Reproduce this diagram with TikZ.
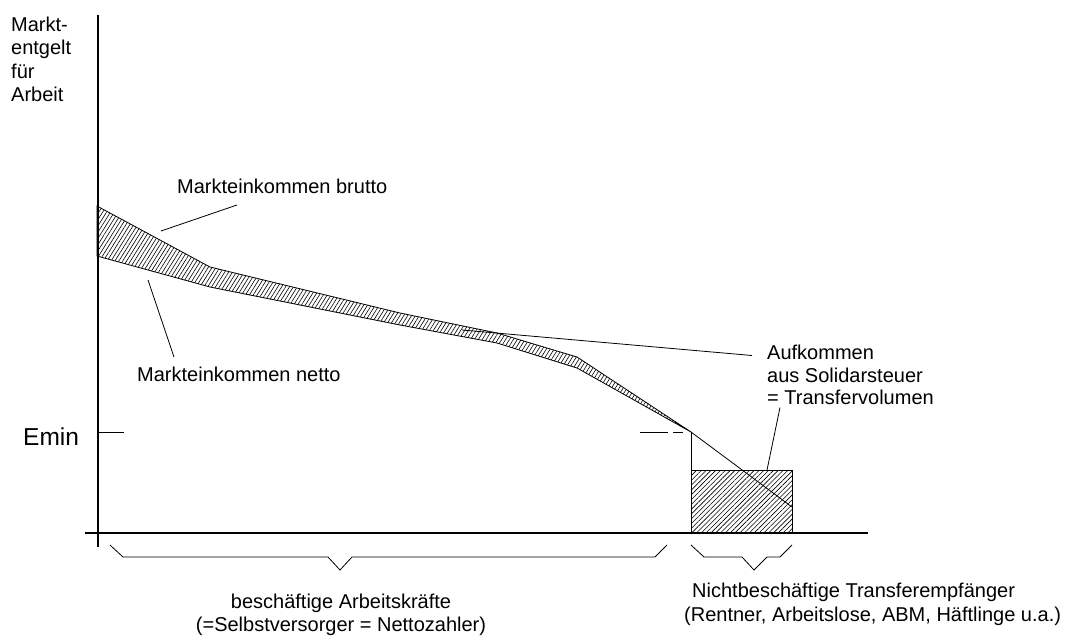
\documentclass[tikz,border=0pt]{standalone}
\usepackage{fontspec}
\setmainfont{Liberation Sans}
\usetikzlibrary{patterns.meta}

\begin{document}
\begin{tikzpicture}[
        x=1pt, y=-1pt,
        axis/.style={line width=1.8pt},
        thinline/.style={line width=0.8pt},
        lbl/.style={inner sep=0pt, anchor=base west, font=\fontsize{20}{23}\selectfont},
        mid/.style={inner sep=0pt, anchor=base, font=\fontsize{20}{23}\selectfont},
        bandhatch/.style={pattern={Lines[angle=58,distance=3.3pt,line width=0.6pt]}},
        boxhatch/.style={pattern={Lines[angle=45,distance=3.4pt,line width=0.6pt]}}
    ]

    \useasboundingbox (0,0) rectangle (1079,638);

    % Axes
    \draw[axis] (98,15) -- (98,547);
    \draw[axis] (85,533) -- (868,533);

    % Axis label
    \node[lbl] (yl1) at (11,31) {Markt-};
    \node[lbl] (yl2) at (11,54.5) {entgelt};
    \node[lbl] (yl3) at (11,78) {für};
    \node[lbl] (yl4) at (11,101.5) {Arbeit};

    % Emin
    \node[lbl, font=\fontsize{24.5}{28}\selectfont] (emin) at (23,445) {Emin};
    \coordinate (eminTick) at (124,432);
    \draw[thinline] (98,432) -- (eminTick);

    % Band between brutto and netto
    \draw[thinline, bandhatch] (97,206) -- (210,267) -- (400,313) -- (497,333)
        -- (577,357) -- (691,432) -- (577,368) -- (497,343) -- (400,325)
        -- (210,287) -- (97,256) -- cycle;

    % Transfer box
    \coordinate (emax) at (691,432);
    \draw[thinline, boxhatch] (691,470) rectangle (792,533);
    \draw[thinline] (emax) -- (691,470);
    \draw[thinline] (emax) -- (792,507);
    \draw[thinline, dash pattern=on 28pt off 5pt on 10pt off 20pt] (640,432) -- (emax);

    % Labels with leaders
    \node[lbl] (brutto) at (177,193) {Markteinkommen brutto};
    \node[lbl] (netto) at (137,381) {Markteinkommen netto};
    \coordinate (bruttoEnd) at (161,231);
    \coordinate (nettoEnd) at (148,280);
    \draw[thinline] ([shift={(60,12)}]brutto.base west) -- (bruttoEnd);
    \draw[thinline] ([shift={(37,-24)}]netto.base west) -- (nettoEnd);

    \node[lbl] (auf1) at (767,359.5) {Aufkommen};
    \node[lbl] (auf2) at (767,382) {aus Solidarsteuer};
    \node[lbl] (auf3) at (767,404.5) {= Transfervolumen};
    \coordinate (aufEnd) at (462,330);
    \coordinate (boxTop) at (767,470);
    \draw[thinline] ([shift={(-15,-4)}]auf1.base west) -- (aufEnd);
    \draw[thinline] ([shift={(13,3)}]auf3.base west) -- (boxTop);

    % Braces
    \draw[thinline] (110,545) -- (123,557) -- (328,557) -- (340,570)
        -- (352,557) -- (655,557) -- (667,545);
    \draw[thinline] (691,545) -- (704,557) -- (742,557) -- (754,570)
        -- (767,557) -- (780,557) -- (792,545);

    \node[mid] (besch1) at (341,608) {beschäftige Arbeitskräfte};
    \node[mid] (besch2) at (341,631) {(=Selbstversorger = Nettozahler)};
    \node[lbl] (nicht1) at (692,597) {Nichtbeschäftige Transferempfänger};
    \node[lbl] (nicht2) at (684,621) {(Rentner, Arbeitslose, ABM, Häftlinge u.a.)};

\end{tikzpicture}
\end{document}
